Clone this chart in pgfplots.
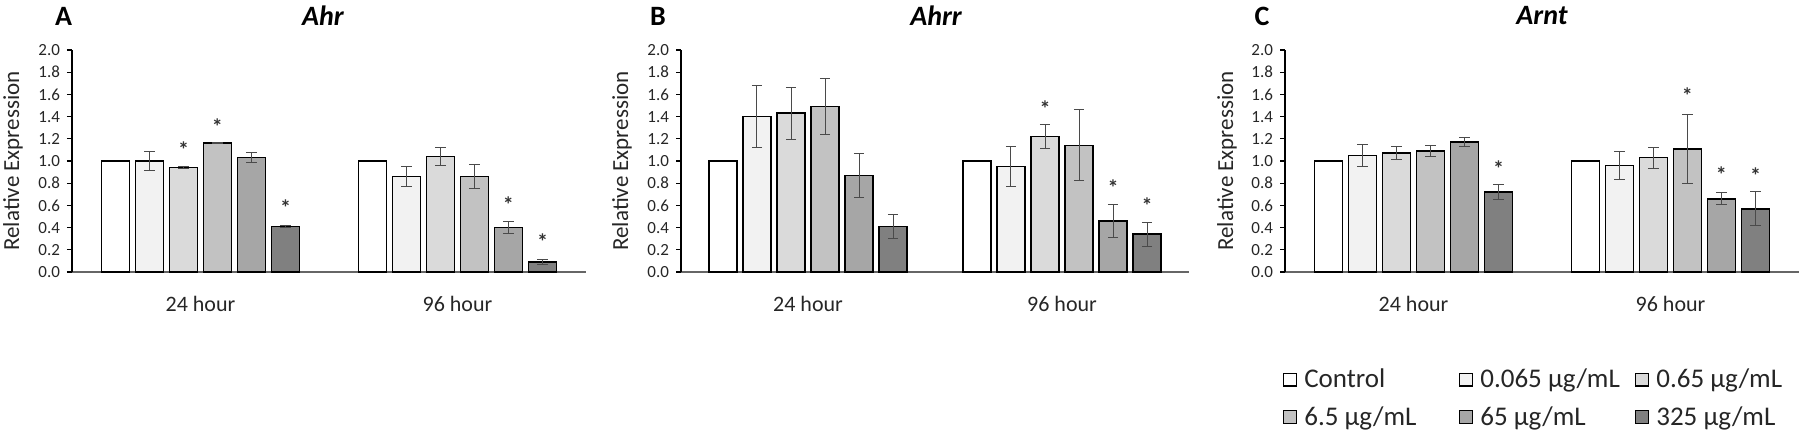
\documentclass[border=0pt]{standalone}
\usepackage{fontspec}
\setmainfont{Carlito}
\usepackage{pgfplots}
\usepackage{pgfplotstable}
\pgfplotsset{compat=1.18}

\definecolor{c0}{HTML}{FFFFFF}
\definecolor{c1}{HTML}{F2F2F2}
\definecolor{c2}{HTML}{DADADA}
\definecolor{c3}{HTML}{C2C2C2}
\definecolor{c4}{HTML}{A6A6A6}
\definecolor{c5}{HTML}{808080}
\definecolor{errc}{HTML}{4A4A4A}

% columns: group, then value/error for Control, 0.065, 0.65, 6.5, 65, 325 ug/mL
\pgfplotstableread{
g y0   e0  y1   e1    y2   e2    y3   e3    y4   e4    y5   e5
0 1.00 0   1.00 0.085 0.94 0.006 1.16 0.005 1.03 0.045 0.41 0.008
1 1.00 0   0.86 0.087 1.04 0.082 0.86 0.110 0.40 0.055 0.09 0.025
}\tblA
\pgfplotstableread{
g y0   e0  y1   e1    y2   e2    y3   e3    y4   e4    y5   e5
0 1.00 0   1.40 0.280 1.43 0.235 1.49 0.250 0.87 0.200 0.41 0.110
1 1.00 0   0.95 0.180 1.22 0.105 1.14 0.320 0.46 0.150 0.34 0.110
}\tblB
\pgfplotstableread{
g y0   e0  y1   e1    y2   e2    y3   e3    y4   e4    y5   e5
0 1.00 0   1.05 0.100 1.07 0.060 1.09 0.050 1.17 0.040 0.72 0.070
1 1.00 0   0.96 0.130 1.03 0.095 1.11 0.310 0.66 0.055 0.57 0.155
}\tblC
% significance markers (x = group + bar offset)
\pgfplotstableread{
x      y
-0.066 1.10
0.066  1.31
0.331  0.58
1.198  0.61
1.331  0.275
}\starA
\pgfplotstableread{
x      y
0.933  1.47
1.201  0.76
1.335  0.60
}\starB
\pgfplotstableread{
x      y
0.331  0.93
1.066  1.59
1.198  0.88
1.331  0.87
}\starC

\pgfplotsset{
  panel/.style={
    scale only axis, height=111pt,
    xmin=-0.5, xmax=1.5, ymin=0, ymax=2,
    axis x line*=bottom, axis y line*=left,
    x axis line style={draw=black!60, line width=0.8pt},
    y axis line style={draw=black, line width=0.6pt},
    xtick={0,1}, xticklabels={24 hour, 96 hour},
    xtick style={draw=none},
    ytick={0,0.2,0.4,0.6,0.8,1.0,1.2,1.4,1.6,1.8,2.0},
    ytick pos=left, tick align=outside, major tick length=2.5pt,
    ytick style={draw=black, line width=0.6pt},
    /pgf/number format/.cd, fixed, fixed zerofill, precision=1, assume math mode=true,
    /pgfplots/.cd,
    yticklabel style={font=\fontsize{8.5}{10}\selectfont, text=black!85},
    xticklabel style={font=\fontsize{11}{12}\selectfont, text=black!85, yshift=-6pt},
    ylabel={Relative Expression},
    ylabel style={font=\fontsize{11.5}{12}\selectfont, text=black!85},
    clip=false,
  },
  bar/.style={ybar, bar width=14pt, bar shift=0pt, draw=black, line width=0.8pt, fill=#1,
    error bars/.cd, y dir=both, y explicit, error mark=|,
    error bar style={line width=0.5pt, draw=errc},
    error mark options={line width=0.5pt, draw=errc, mark size=2.6pt}},
  ctrl/.style={ybar, bar width=14pt, bar shift=0pt, draw=black, line width=0.8pt, fill=#1},
  star/.style={only marks, mark=text, forget plot,
    text mark={\fontsize{11}{11}\selectfont\bfseries\textcolor{black!80}{*}}},
}

% #1 table, #2 spacing of neighbouring bars in axis units
\newcommand{\allbars}[2]{%
  \addplot[ctrl=c0] table[x expr=\thisrow{g}-2.5*#2, y=y0] {#1};
  \addplot[bar=c1] table[x expr=\thisrow{g}-1.5*#2, y=y1, y error=e1] {#1};
  \addplot[bar=c2] table[x expr=\thisrow{g}-0.5*#2, y=y2, y error=e2] {#1};
  \addplot[bar=c3] table[x expr=\thisrow{g}+0.5*#2, y=y3, y error=e3] {#1};
  \addplot[bar=c4] table[x expr=\thisrow{g}+1.5*#2, y=y4, y error=e4] {#1};
  \addplot[bar=c5] table[x expr=\thisrow{g}+2.5*#2, y=y5, y error=e5] {#1};
}

\begin{document}
\begin{tikzpicture}
\useasboundingbox (0pt,0pt) rectangle (900pt,217pt);

% Panel A
\begin{axis}[panel, width=257pt, at={(36pt,81pt)}, anchor=south west,
  ylabel style={at={(axis description cs:-0.115,0.5)}, anchor=center}]
  \allbars{\tblA}{0.1323}
  \addplot[star] table[x=x, y=y] {\starA};
\end{axis}

% Panel B
\begin{axis}[panel, width=254pt, at={(340.5pt,81pt)}, anchor=south west,
  ylabel style={at={(axis description cs:-0.116,0.5)}, anchor=center}]
  \allbars{\tblB}{0.1339}
  \addplot[star] table[x=x, y=y] {\starB};
\end{axis}

% Panel C
\begin{axis}[panel, width=257pt, at={(642.5pt,81pt)}, anchor=south west,
  ylabel style={at={(axis description cs:-0.113,0.5)}, anchor=center},
  legend columns=3,
  legend cell align=left,
  legend image code/.code={\draw[#1,/tikz/.cd, line width=0.6pt, draw=black] (0pt,-3.2pt) rectangle (6.4pt,3.2pt);},
  legend style={at={(axis description cs:-0.005,-0.42)}, anchor=north west,
    draw=none, fill=none, inner sep=0pt, column sep=0pt, row sep=5pt,
    font=\fontsize{13.5}{14}\selectfont,
    nodes={inner sep=1.5pt, text=black!85}},
  ]
  \allbars{\tblC}{0.1323}
  \addplot[star] table[x=x, y=y] {\starC};
  \legend{\makebox[78pt][l]{\,Control}, \makebox[78pt][l]{\,0.065 µg/mL}, \makebox[68pt][l]{\,0.65 µg/mL},
          \makebox[78pt][l]{\,6.5 µg/mL}, \makebox[78pt][l]{\,65 µg/mL}, \makebox[68pt][l]{\,325 µg/mL}}
\end{axis}

% panel letters and gene titles
\node[font=\fontsize{14}{14}\selectfont\bfseries] at (31.75pt,209pt) {A};
\node[font=\fontsize{14}{14}\selectfont\bfseries] at (329pt,209pt) {B};
\node[font=\fontsize{14}{14}\selectfont\bfseries] at (631pt,209pt) {C};
\node[font=\fontsize{14}{14}\selectfont\bfseries\itshape] at (161.5pt,209pt) {Ahr};
\node[font=\fontsize{14}{14}\selectfont\bfseries\itshape] at (468pt,209pt) {Ahrr};
\node[font=\fontsize{14}{14}\selectfont\bfseries\itshape] at (771pt,209pt) {Arnt};
\end{tikzpicture}
\end{document}
